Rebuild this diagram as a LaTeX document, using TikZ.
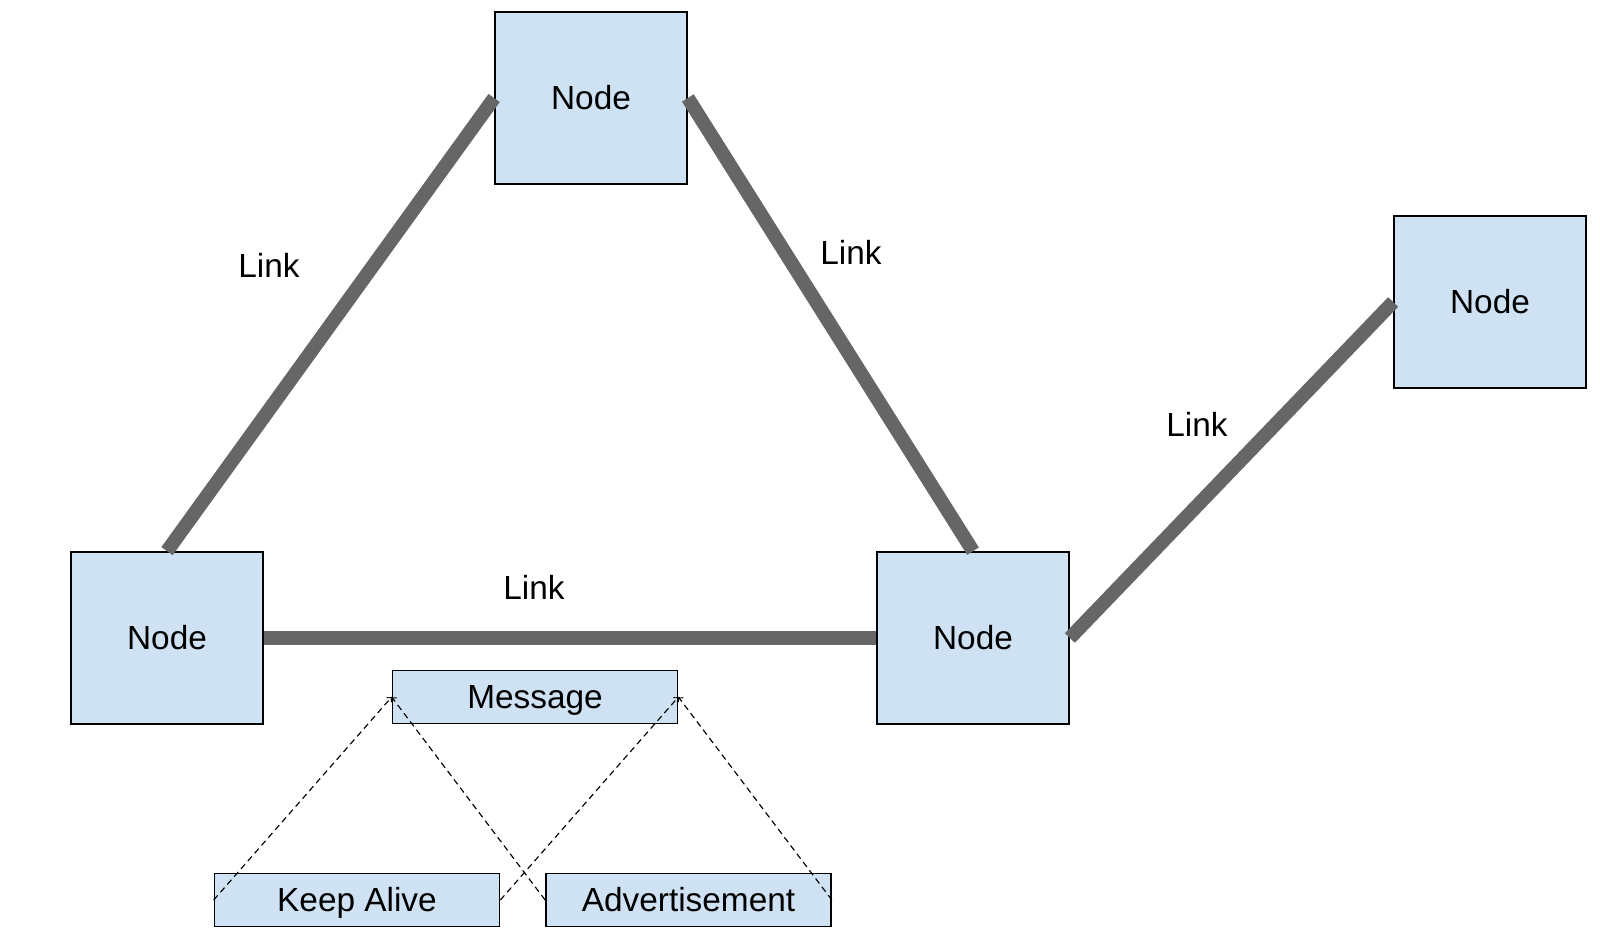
\documentclass[tikz,border=0pt]{standalone}
\usepackage{fontspec}
\setmainfont{Liberation Sans}
\usetikzlibrary{arrows,positioning,calc}
\definecolor{nodefill}{HTML}{CFE2F3}
\definecolor{linkgray}{HTML}{666666}

\begin{document}
\begin{tikzpicture}[x=0.02cm, y=-0.02cm, >=to,
  every box/.style={draw=black, line width=1pt, fill=nodefill, inner sep=0pt,
    font=\fontsize{19}{23}\selectfont, text height=13.6pt, text depth=0pt},
  node box/.style={every box, minimum width=3.84cm, minimum height=3.44cm},
  msg box/.style={every box, minimum width=5.70cm, minimum height=1.06cm},
  link/.style={draw=linkgray, line width=7.9pt},
  kind/.style={draw=black, line width=0.65pt, dash pattern=on 3.5pt off 2.4pt, ->},
  link label/.style={font=\fontsize{19}{23}\selectfont, text height=13.6pt, text depth=0pt}]

\useasboundingbox (0,0) rectangle (1600,934);

\foreach \n/\px/\py in {top/591/98, left/167/638, mid/973/638, right/1490/302}
  \node [node box] (node-\n) at (\px,\py) {Node};

\node [msg box] (message) at (535,697) {Message};
\node [msg box] (keep) at (357,900) {Keep Alive};
\node [msg box] (advert) at (688.5,900) {Advertisement};

% links between nodes
\draw [link] (node-top.west) -- (node-left.north);
\draw [link] (node-top.east) -- (node-mid.north);
\draw [link] (node-left.east) -- (node-mid.west);
\draw [link] (node-mid.east) -- (node-right.west);

\foreach \px/\py [count=\i] in {269/266, 851/252.5, 534/588, 1197/425}
  \node [link label] (link-\i) at (\px,\py) {Link};

% message kinds
\foreach \m in {keep,advert} {
  \draw [kind] (\m.west) -- (message.west);
  \draw [kind] (\m.east) -- (message.east);
}

\end{tikzpicture}
\end{document}
